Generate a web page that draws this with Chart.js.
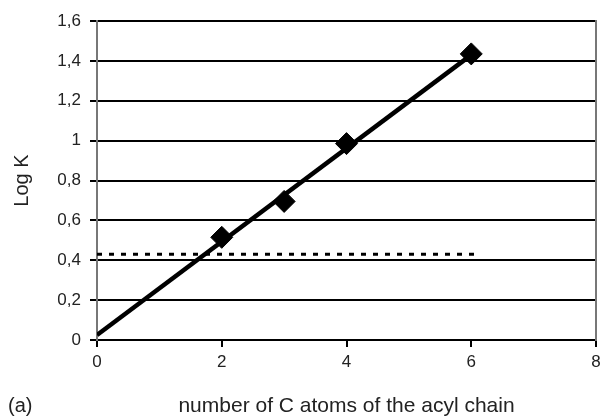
<!DOCTYPE html>
<html>
<head>
<meta charset="utf-8">
<script src="https://cdn.jsdelivr.net/npm/chart.js@4/dist/chart.umd.min.js"></script>
<style>
html,body{margin:0;padding:0;background:#fff;}
canvas{display:block;}
</style>
</head>
<body>
<canvas id="c" width="608" height="418"></canvas>
<script>
// Data
const carbonAtoms = [2, 3, 4, 6];
const logK = [0.515, 0.695, 0.985, 1.435];
const fitX = [0, 6];
const fitY = [0.025, 1.43];
const refX = [0, 6.05];
const refY = [0.43, 0.43];
const xTitle = 'number of C atoms of the acyl chain';
const yTitle = 'Log K';
const panelLabel = '(a)';

const toPts = (xs, ys) => xs.map((x, i) => ({x: x, y: ys[i]}));
const FONT = 'Liberation Sans, Arial, sans-serif';

const panelPlugin = {
  id: 'panelLabel',
  afterDraw(chart) {
    const ctx = chart.ctx;
    ctx.save();
    ctx.font = '20px ' + FONT;
    ctx.fillStyle = '#222';
    ctx.textBaseline = 'alphabetic';
    ctx.textAlign = 'left';
    ctx.fillText(panelLabel, 8, 412);
    ctx.restore();
  }
};

new Chart(document.getElementById('c'), {
  type: 'scatter',
  data: {
    datasets: [
      {
        type: 'line',
        data: toPts(refX, refY),
        borderColor: '#000',
        borderWidth: 3,
        borderDash: [5, 7],
        pointRadius: 0,
        fill: false,
        order: 3
      },
      {
        type: 'line',
        data: toPts(fitX, fitY),
        borderColor: '#000',
        borderWidth: 4.5,
        pointRadius: 0,
        fill: false,
        order: 2
      },
      {
        data: toPts(carbonAtoms, logK),
        pointStyle: 'rectRot',
        pointRadius: 11,
        backgroundColor: '#000',
        borderColor: '#000',
        borderWidth: 1,
        showLine: false,
        order: 1
      }
    ]
  },
  options: {
    responsive: false,
    animation: false,
    devicePixelRatio: 1,
    layout: { padding: { top: 21, right: 9, left: 0, bottom: 0 } },
    plugins: { legend: { display: false }, tooltip: { enabled: false } },
    scales: {
      x: {
        type: 'linear',
        min: 0, max: 8,
        afterFit(s) { s.height = 78; },
        ticks: { stepSize: 2, padding: 5, color: '#222', font: { family: FONT, size: 17 } },
        grid: { drawOnChartArea: false, drawTicks: true, tickLength: 7, color: '#000', lineWidth: 2 },
        border: { color: '#000', width: 2 },
        title: { display: true, text: xTitle, color: '#222', font: { family: FONT, size: 21, lineHeight: 1 }, padding: { top: 0, bottom: 1 } }
      },
      y: {
        type: 'linear',
        min: 0, max: 1.6,
        afterFit(s) { s.width = 97; },
        ticks: {
          stepSize: 0.2, padding: 9, color: '#222', font: { family: FONT, size: 17 },
          callback: v => String(Number(v.toFixed(1))).replace('.', ',')
        },
        grid: { drawTicks: true, tickLength: 7, color: '#000', lineWidth: 2 },
        border: { color: '#777', width: 2 },
        title: { display: true, text: yTitle, color: '#222', font: { family: FONT, size: 20, lineHeight: 1 }, padding: { top: 12, bottom: 0 } }
      },
      y2: {
        type: 'linear',
        position: 'right',
        display: true,
        afterFit(s) { s.width = 0; },
        ticks: { display: false },
        grid: { drawOnChartArea: false, drawTicks: false },
        border: { color: '#777', width: 2 }
      }
    }
  },
  plugins: [panelPlugin]
});
</script>
</body>
</html>
